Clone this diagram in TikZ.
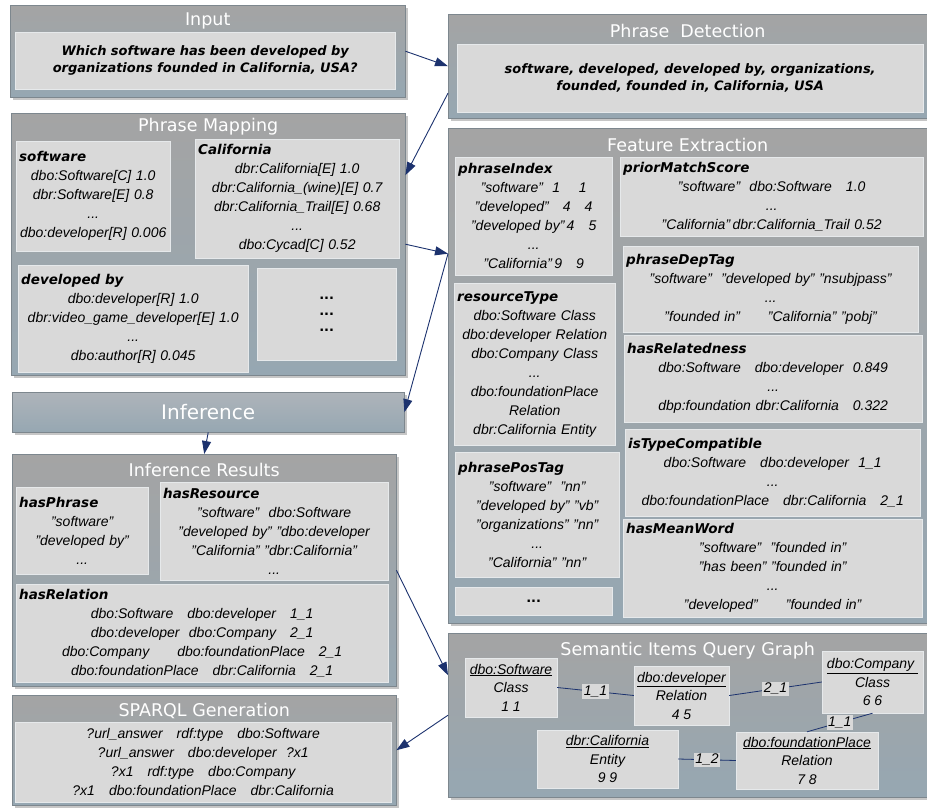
\documentclass[tikz,border=0pt]{standalone}
\usepackage{fontspec}
\setmainfont{Liberation Sans}
\newfontfamily\verd{DejaVu Sans}
\usetikzlibrary{arrows.meta,shadows}
\definecolor{navy}{RGB}{28,50,110}
\definecolor{ptop}{RGB}{164,164,164}
\definecolor{pbot}{RGB}{150,167,178}
\definecolor{itop}{RGB}{174,180,186}
\definecolor{boxgray}{RGB}{217,217,217}
\definecolor{boxline}{RGB}{230,233,235}
\definecolor{pline}{RGB}{125,135,142}
\newcommand\hd[1]{\makebox[\linewidth][l]{\verd\bfseries\itshape\fontsize{13.5}{19}\selectfont #1}}

\begin{document}
\begin{tikzpicture}[x=1pt,y=-1pt,
    panel/.style={draw=pline,top color=ptop,bottom color=pbot,anchor=north west,inner sep=0pt,
      drop shadow={shadow xshift=3pt,shadow yshift=-3pt,opacity=.45}},
    ttl/.style={text=white,font=\verd\fontsize{17.5}{19}\selectfont,inner sep=1pt},
    sub/.style={draw=boxline,fill=boxgray,anchor=north west,align=center,inner xsep=3pt,inner ysep=2pt,
      font=\itshape\fontsize{14}{19}\selectfont},
    bold/.style={font=\verd\bfseries\itshape\fontsize{13}{17.5}\selectfont},
    item/.style={draw=boxline,fill=boxgray,align=center,inner sep=2pt,font=\itshape\fontsize{14}{18.5}\selectfont},
    elab/.style={fill=boxgray,text=black,inner sep=1.5pt,font=\itshape\fontsize{14}{16}\selectfont},
    flow/.style={navy,line width=.9pt,-{Triangle[length=13pt,width=9pt]}},
    link/.style={navy,line width=.8pt}
  ]
  \useasboundingbox (0,0) rectangle (927,809);

  \node[panel,minimum width=395pt,minimum height=92pt] (inp) at (10,5) {};
  \node[ttl] (tinp) at ([yshift=-16pt]inp.north) {Input};
  \node[sub,bold,text width=374pt,minimum height=57pt] (q) at (15,32)
    {Which software has been developed by\\organizations founded in California, USA?};

  \node[panel,minimum width=479pt,minimum height=104pt] (pd) at (448,14) {};
  \node[ttl] (tpd) at ([yshift=-17pt]pd.north) {Phrase\ \ Detection};
  \node[sub,bold,text width=460pt,minimum height=68pt] (phr) at (457,44)
    {software, developed, developed by, organizations,\\founded, founded in, California, USA};

  \node[panel,minimum width=394pt,minimum height=262pt] (pm) at (11,113) {};
  \node[ttl] (tpm) at ([yshift=-14pt]pm.north) {Phrase Mapping};
  \node[sub,text width=148pt,minimum height=110pt] (msw) at (16,141)
    {\hd{software}\\dbo:Software[C] 1.0\\dbr:Software[E] 0.8\\...\\dbo:developer[R] 0.006};
  \node[sub,text width=198pt,minimum height=119pt] (mca) at (195,139)
    {\hd{California}\\dbr:California[E] 1.0\\dbr:California\_(wine)[E] 0.7\\dbr:California\_Trail[E] 0.68\\...\\dbo:Cycad[C] 0.52};
  \node[sub,text width=224pt,minimum height=107pt] (mdb) at (18,265)
    {\hd{developed by}\\dbo:developer[R] 1.0\\dbr:video\_game\_developer[E] 1.0\\...\\dbo:author[R] 0.045};
  \node[sub,bold,font=\verd\bfseries\fontsize{13}{16}\selectfont,text width=133pt,minimum height=92pt] (mdot) at (257,268)
    {...\\...\\...};

  \node[panel,minimum width=479pt,minimum height=495pt] (fe) at (448,128) {};
  \node[ttl] (tfe) at ([yshift=-17pt]fe.north) {Feature Extraction};
  \node[sub,text width=151pt,minimum height=118pt] (pidx) at (455,157)
    {\hd{phraseIndex}\\"software"\ \ 1\quad\ 1\\"developed"\quad 4\quad 4\\"developed by"\,4\quad 5\\...\\"California"\,9\quad 9};
  \node[sub,text width=297pt,minimum height=79pt] (pms) at (620,157)
    {\hd{priorMatchScore}\\"software"\ \ dbo:Software\quad 1.0\\...\\"California"\,dbr:California\_Trail 0.52};
  \node[sub,text width=155pt,minimum height=162pt] (rty) at (454,283)
    {\hd{resourceType}\\dbo:Software Class\\dbo:developer Relation\\dbo:Company Class\\...\\dbo:foundationPlace\\Relation\\dbr:California Entity};
  \node[sub,text width=289pt,minimum height=86pt] (pdt) at (623,246)
    {\hd{phraseDepTag}\\"software"\ \ "developed by" "nsubjpass"\\...\\"founded in"\qquad"California" "pobj"};
  \node[sub,text width=292pt,minimum height=87pt] (hrel) at (624,335)
    {\hd{hasRelatedness}\\dbo:Software\quad dbo:developer\ \ 0.849\\...\\dbp:foundation dbr:California\quad 0.322};
  \node[sub,text width=289pt,minimum height=87pt] (itc) at (625,429)
    {\hd{isTypeCompatible}\\dbo:Software\quad dbo:developer\ \ 1\_1\\...\\dbo:foundationPlace\quad dbr:California\quad 2\_1};
  \node[sub,text width=158pt,minimum height=125pt] (ppt) at (455,452)
    {\hd{phrasePosTag}\\"software"\ \ "nn"\\"developed by" "vb"\\"organizations" "nn"\\...\\"California" "nn"};
  \node[sub,bold,font=\verd\bfseries\fontsize{13}{16}\selectfont,text width=151pt,minimum height=28pt] (fdot) at (455,587) {...};
  \node[sub,text width=293pt,minimum height=98pt] (hmw) at (623,519)
    {\hd{hasMeanWord}\\"software"\ \ "founded in"\\"has been" "founded in"\\...\\"developed"\qquad"founded in"};

  \node[panel,top color=itop,minimum width=392pt,minimum height=40pt] (inf) at (12,392) {};
  \node[ttl,font=\verd\fontsize{20}{22}\selectfont] (tinf) at (inf.center) {Inference};

  \node[panel,minimum width=384pt,minimum height=232pt] (ir) at (12,454) {};
  \node[ttl] (tir) at ([yshift=-16pt]ir.north) {Inference Results};
  \node[sub,text width=126pt,minimum height=87pt] (hph) at (16,487)
    {\hd{hasPhrase}\\"software"\\"developed by"\\...};
  \node[sub,text width=222pt,minimum height=98pt] (hres) at (160,482)
    {\hd{hasResource}\\"software"\ \ dbo:Software\\"developed by" "dbo:developer\\"California" "dbr:California"\\...};
  \node[sub,text width=366pt,minimum height=98pt] (hrl) at (16,584)
    {\hd{hasRelation}\\dbo:Software\quad dbo:developer\quad 1\_1\\dbo:developer\ \ dbo:Company\quad 2\_1\\
     dbo:Company\qquad dbo:foundationPlace\quad 2\_1\\dbo:foundationPlace\quad dbr:California\quad 2\_1};

  \node[panel,minimum width=384pt,minimum height=110pt] (sp) at (12,695) {};
  \node[ttl] (tsp) at ([yshift=-16pt]sp.north) {SPARQL Generation};
  \node[sub,text width=370pt,minimum height=80pt] (spq) at (15,722)
    {?url\_answer\quad rdf:type\quad dbo:Software\\?url\_answer\quad dbo:developer\ \ ?x1\\
     ?x1\quad rdf:type\quad dbo:Company\\?x1\quad dbo:foundationPlace\quad dbr:California};

  \node[panel,minimum width=479pt,minimum height=164pt] (sem) at (448,633) {};
  \node[ttl] (tsem) at ([yshift=-18pt]sem.north) {Semantic Items Query Graph};
  \node[item,minimum width=92pt,minimum height=59pt] (sw) at (511,687.5) {\underline{dbo:Software}\\Class\\1 1};
  \node[item,minimum width=95pt,minimum height=59pt] (dev) at (681.5,695.5) {\underline{dbo:developer}\\Relation\\4 5};
  \node[item,minimum width=101pt,minimum height=62pt] (comp) at (872.5,682) {\underline{dbo:Company\ }\\Class\\6 6};
  \node[item,minimum width=141pt,minimum height=58pt] (cal) at (607.5,759) {\underline{dbr:California}\\Entity\\9 9};
  \node[item,minimum width=142pt,minimum height=57pt] (fp) at (807,760.5) {\underline{dbo:foundationPlace}\\Relation\\7 8};
  \draw[link] (sw.east) -- node[elab] (l1) {1\_1} (dev.west);
  \draw[link] (dev.east) -- node[elab] (l2) {2\_1} (comp.west);
  \draw[link] (comp.south) -- node[elab] (l3) {1\_1} (fp.north);
  \draw[link] (cal.east) -- node[elab] (l4) {1\_2} (fp.west);

  \draw[flow] (inp.east) -- (pd.west);
  \draw[flow] ([yshift=-27pt]pd.west) -- ([yshift=69pt]pm.east);
  \draw[flow] (pm.east) -- ([yshift=122pt]fe.west);
  \draw[flow] ([yshift=122pt]fe.west) -- (inf.east);
  \draw[flow] (inf.south) -- (ir.north);
  \draw[flow] (ir.east) -- ([yshift=40pt]sem.west);
  \draw[flow] (sem.west) -- (sp.east);
\end{tikzpicture}
\end{document}
